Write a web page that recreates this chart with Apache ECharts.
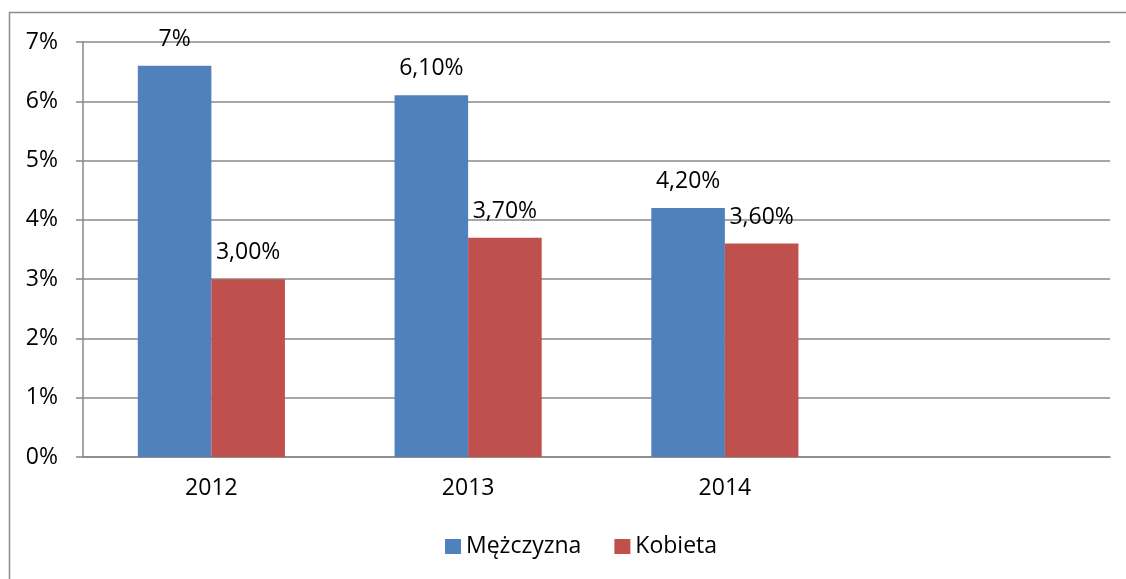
<!DOCTYPE html>
<html>
<head>
<meta charset="utf-8">
<script src="https://cdn.jsdelivr.net/npm/echarts@6/dist/echarts.min.js"></script>
<style>
  html, body { margin: 0; padding: 0; background: #fff; }
  #chart { width: 1126px; height: 579px; }
</style>
</head>
<body>
<div id="chart"></div>
<script>
// category axis has an empty fourth slot, like the original sheet
const years = ['2012', '2013', '2014', ''];
const seriesNames = ['Mężczyzna', 'Kobieta'];
const menValues = [6.6, 6.1, 4.2, null];
const womenValues = [3.0, 3.7, 3.6, null];
const menLabels = ['7%', '6,10%', '4,20%', ''];
const womenLabels = ['3,00%', '3,70%', '3,60%', ''];
const yTicks = [0, 1, 2, 3, 4, 5, 6, 7];

const FONT = 'Open Sans';
const FONT_SIZE = 23;
const GRID_COLOR = '#888888';

const chart = echarts.init(document.getElementById('chart'));

const labelOf = (texts) => ({
    show: true,
    position: 'top',
    distance: 15,
    color: '#000',
    fontFamily: FONT,
    fontSize: FONT_SIZE,
    formatter: (p) => texts[p.dataIndex],
});

const option = {
    animation: false,
    textStyle: { fontFamily: FONT },
    graphic: [
        {
            type: 'rect',
            shape: { x: 9.5, y: 12.5, width: 1130, height: 580 },
            style: { fill: 'none', stroke: '#8c8c8c', lineWidth: 1.5 },
            silent: true,
        },
    ],
    grid: { left: 83, right: 16, top: 42, bottom: 122 },
    legend: {
        bottom: 16,
        left: 440,
        itemWidth: 16,
        itemHeight: 15,
        itemGap: 33,
        icon: 'rect',
        textStyle: { fontFamily: FONT, fontSize: FONT_SIZE, color: '#000' },
        data: seriesNames,
    },
    xAxis: {
        type: 'category',
        data: years,
        axisLine: { lineStyle: { color: GRID_COLOR, width: 1.5 } },
        axisTick: { alignWithLabel: false, length: 7, lineStyle: { color: GRID_COLOR, width: 1.5 } },
        axisLabel: { color: '#000', fontSize: FONT_SIZE, fontFamily: FONT, margin: 20 },
    },
    yAxis: {
        type: 'value',
        min: yTicks[0],
        max: yTicks[yTicks.length - 1],
        interval: 1,
        axisLine: { show: true, lineStyle: { color: GRID_COLOR, width: 1.5 } },
        axisTick: { show: true, length: 7, lineStyle: { color: GRID_COLOR, width: 1.5 } },
        axisLabel: { color: '#000', fontSize: FONT_SIZE, fontFamily: FONT, margin: 25, formatter: '{value}%' },
        splitLine: { lineStyle: { color: GRID_COLOR, width: 1.5 } },
    },
    series: [
        {
            name: seriesNames[0],
            type: 'bar',
            data: menValues,
            itemStyle: { color: '#4F81BD' },
            barGap: '0%',
            barCategoryGap: '42.7%',
            label: labelOf(menLabels),
        },
        {
            name: seriesNames[1],
            type: 'bar',
            data: womenValues,
            itemStyle: { color: '#C0504D' },
            label: labelOf(womenLabels),
        },
    ],
};

chart.setOption(option);
</script>
</body>
</html>
